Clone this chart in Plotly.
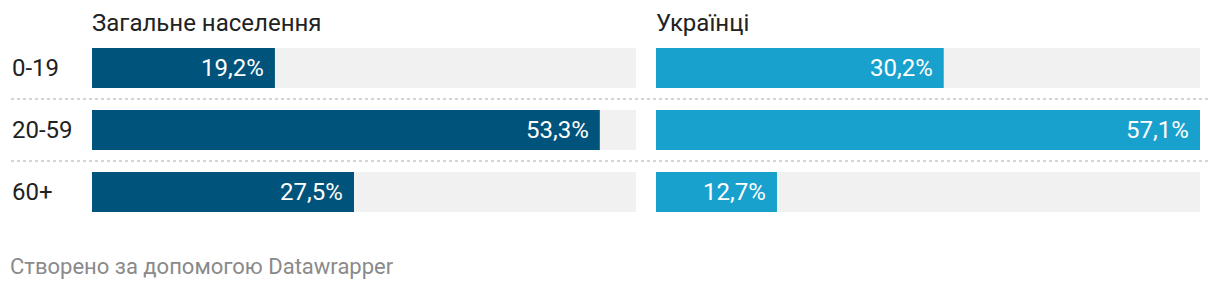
import plotly.graph_objects as go

categories = ["0-19", "20-59", "60+"]
general = [19.2, 53.3, 27.5]
ukrainians = [30.2, 57.1, 12.7]
titles = ["Загальне населення", "Українці"]
footer = "Створено за допомогою Datawrapper"

W, H = 1220, 288
max_val = max(general + ukrainians)
FONT = "Roboto"

fig = go.Figure()

def px_x(p):
    return p / W

def px_y(p):
    return 1 - p / H

colors = ["#00537a", "#19a1cd"]
series = [general, ukrainians]
axes = [("x", "y"), ("x2", "y2")]

for i, (vals, col, (xa, ya)) in enumerate(zip(series, colors, axes)):
    fig.add_trace(go.Bar(
        x=[max_val] * len(categories), y=categories, orientation="h",
        marker=dict(color="#f1f1f1", line=dict(width=0)), width=40/62,
        xaxis=xa, yaxis=ya, hoverinfo="skip", showlegend=False,
    ))
    fig.add_trace(go.Bar(
        x=vals, y=categories, orientation="h",
        marker=dict(color=col, line=dict(width=0)), width=40/62,
        xaxis=xa, yaxis=ya, showlegend=False,
    ))
    for c, v in zip(categories, vals):
        fig.add_annotation(
            x=v, y=c, xref=xa, yref=ya, text=f"{v:.1f}%".replace(".", ","),
            showarrow=False, xanchor="right", xshift=-9,
            font=dict(family=FONT, size=24, color="white"),
        )

ydom = [px_y(223), px_y(37)]
fig.update_layout(
    width=W, height=H, margin=dict(l=0, r=0, t=0, b=0),
    paper_bgcolor="white", plot_bgcolor="white", barmode="overlay",
    xaxis=dict(domain=[px_x(92), px_x(636)], range=[0, max_val], visible=False, fixedrange=True),
    xaxis2=dict(domain=[px_x(656), px_x(1200)], range=[0, max_val], visible=False, fixedrange=True),
    yaxis=dict(domain=ydom, range=[2.5, -0.5], visible=False, type="category"),
    yaxis2=dict(domain=ydom, range=[2.5, -0.5], visible=False, type="category", anchor="x2"),
    font=dict(family=FONT),
)

for c in categories:
    fig.add_annotation(x=px_x(10), y=c, xref="paper", yref="y", text=c, showarrow=False,
                       xanchor="left", font=dict(family=FONT, size=24, color="#222222"))

for k in [0.5, 1.5]:
    fig.add_shape(type="line", xref="paper", yref="y", x0=px_x(11), x1=px_x(1208), y0=k, y1=k,
                  line=dict(color="#d4d4d4", width=2, dash="dot"))

for t, x0 in zip(titles, [92, 656]):
    fig.add_annotation(x=px_x(x0 - 2), y=px_y(23), xref="paper", yref="paper", text=t, showarrow=False,
                       xanchor="left", yanchor="middle", font=dict(family=FONT, size=24, color="#222222"))

fig.add_annotation(x=px_x(8), y=px_y(266), xref="paper", yref="paper", text=footer, showarrow=False,
                   xanchor="left", yanchor="middle", font=dict(family=FONT, size=22, color="#8a8a8a"))

fig.write_html("out.html")
